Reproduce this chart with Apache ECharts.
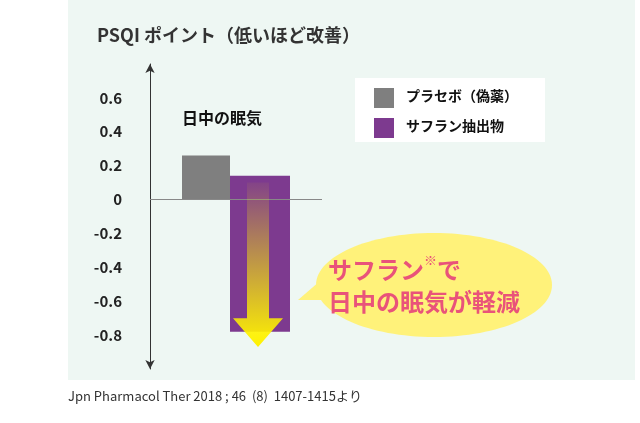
<!DOCTYPE html>
<html><head><meta charset="utf-8">
<script src="https://cdn.jsdelivr.net/npm/echarts@6/dist/echarts.min.js"></script>
<style>body{margin:0}#c{width:640px;height:423px}</style></head>
<body><div id="c"></div>
<script>
// データ
let categories = ["日中の眠気"];
let placebo = [0.26];
let saffronUp = [0.14];
let saffronDown = [-0.78];
let tickShown = [0.6, 0.4, 0.2, 0, -0.2, -0.4, -0.6, -0.8];

let font = "'Noto Sans CJK JP', 'Noto Sans', sans-serif";
let chart = echarts.init(document.getElementById("c"));
let option = {
	backgroundColor: "#fff",
	textStyle: { fontFamily: font },
	grid: { left: 150, right: 318, top: 64, bottom: 54 },
	xAxis: {
		type: "category",
		data: categories,
		axisLine: { show: false },
		axisTick: { show: false },
		axisLabel: { show: false },
	},
	yAxis: {
		type: "value",
		min: -1.0,
		max: 0.8,
		interval: 0.2,
		splitLine: { show: false },
		axisLine: { show: true, symbol: ["arrow", "arrow"], symbolSize: [7, 9], lineStyle: { color: "#333", width: 1 } },
		axisTick: { show: false },
		axisLabel: {
			color: "#222",
			fontSize: 15,
			fontWeight: "bold",
			margin: 28,
			formatter: function (v) {
				let r = Math.round(v * 10) / 10;
				return tickShown.indexOf(r) >= 0 ? (r === 0 ? "0" : r.toFixed(1)) : "";
			},
		},
	},
	legend: { show: false },
	series: [
		{
			type: "bar",
			data: placebo,
			barWidth: 48,
			barGap: 0,
			itemStyle: { color: "#7f7f7f" },
			markLine: {
				symbol: "none",
				silent: true,
				label: { show: false },
				lineStyle: { color: "#888", type: "solid", width: 1 },
				data: [{ yAxis: 0 }],
			},
		},
		{ type: "bar", stack: "s", data: saffronUp, barWidth: 60, itemStyle: { color: "#7d3a8f" } },
		{ type: "bar", stack: "s", data: saffronDown, barWidth: 60, itemStyle: { color: "#7d3a8f" } },
	],
};
chart.setOption(option);

// 矢印・吹き出し等の装飾
let top0 = chart.convertToPixel({ yAxisIndex: 0 }, 0.1);
let shaftEnd = chart.convertToPixel({ yAxisIndex: 0 }, -0.7);
let tip = chart.convertToPixel({ yAxisIndex: 0 }, -0.87);
let cx = 258;
let yellowGrad = new echarts.graphic.LinearGradient(0, 0, 0, 1, [
	{ offset: 0, color: "rgba(255,240,0,0.05)" },
	{ offset: 1, color: "#fff200" },
]);
chart.setOption({
	graphic: [
		{ type: "rect", z: -10, shape: { x: 68, y: 0, width: 567, height: 380 }, style: { fill: "#eef7f3" } },
		{ type: "text", left: 97, top: 26, style: { text: "PSQI ポイント（低いほど改善）", font: "bold 18px " + font, fill: "#333" } },
		{ type: "text", left: 182, top: 110, style: { text: "日中の眠気", font: "bold 16px " + font, fill: "#111" } },
		{ type: "polygon", z: 10, shape: { points: [[cx - 11, top0], [cx + 11, top0], [cx + 11, shaftEnd], [cx + 25, shaftEnd], [cx, tip], [cx - 25, shaftEnd], [cx - 11, shaftEnd]] }, style: { fill: yellowGrad } },
		{ type: "rect", shape: { x: 355, y: 78, width: 190, height: 64 }, style: { fill: "#fff" } },
		{ type: "rect", shape: { x: 374, y: 88, width: 20, height: 20 }, style: { fill: "#7f7f7f" } },
		{ type: "text", left: 406, top: 89, style: { text: "プラセボ（偽薬）", font: "bold 14px " + font, fill: "#111" } },
		{ type: "rect", shape: { x: 374, y: 118, width: 20, height: 20 }, style: { fill: "#7d3a8f" } },
		{ type: "text", left: 406, top: 119, style: { text: "サフラン抽出物", font: "bold 14px " + font, fill: "#111" } },
		{ type: "polygon", shape: { points: [[335, 268], [298, 300], [345, 300]] }, style: { fill: "#fff27a" } },
		{ type: "ellipse", shape: { cx: 434, cy: 285, rx: 118, ry: 52 }, style: { fill: "#fff27a" } },
		{
			type: "text", left: 328, top: 254,
			style: {
				text: "{a|サフラン}{s|※}{a|で}\n{a|日中の眠気が軽減}",
				align: "center",
				x: 105,
				rich: {
					a: { font: "bold 24px " + font, fill: "#e9537a", lineHeight: 32 },
					s: { font: "bold 13px " + font, fill: "#e9537a", verticalAlign: "top", padding: [0, 0, 10, 0] },
				},
			},
		},
		{ type: "text", left: 68, top: 390, style: { text: "Jpn Pharmacol Ther 2018 ; 46  (8)  1407-1415より", font: "13px " + font, fill: "#333" } },
	],
});
</script></body></html>
